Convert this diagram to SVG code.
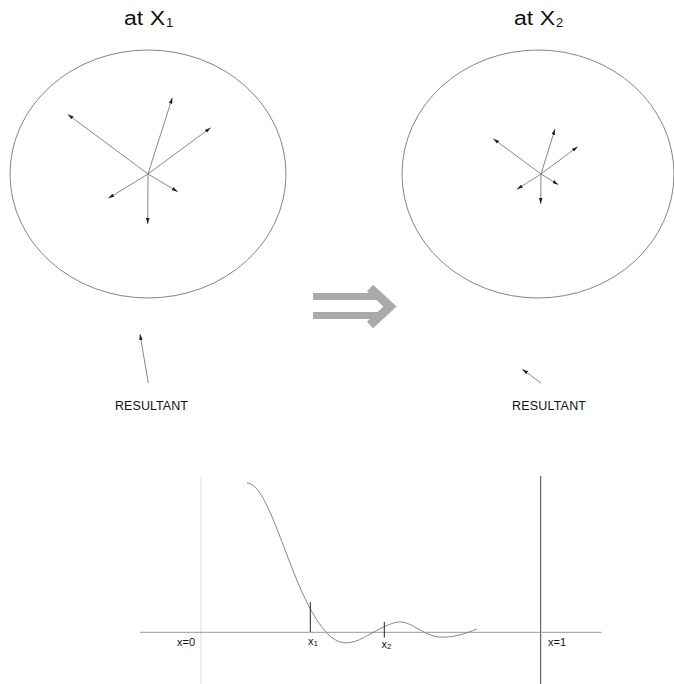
<svg xmlns="http://www.w3.org/2000/svg" width="674" height="684" viewBox="0 0 674 684">
<style>
text{font-family:"Liberation Sans",Arial,sans-serif;fill:#111}
.title{font-size:20px}
.sub{font-size:13px}
.res{font-size:12.5px}
.lab{font-size:11px}
.ell{fill:none;stroke:#777;stroke-width:0.9}
.vec{stroke:#888;stroke-width:1;fill:none;marker-end:url(#ah)}
.axis{stroke:#999;stroke-width:1}
</style>
<defs>
<marker id="ah" viewBox="0 0 10 6" refX="10" refY="3" markerWidth="6" markerHeight="4" orient="auto" markerUnits="userSpaceOnUse">
<path d="M0,0 L10,3 L0,6 z" fill="#222"/>
</marker>
</defs>
<rect width="674" height="684" fill="#fff"/>

<g id="title1"><text class="title" x="124" y="25" textLength="41" lengthAdjust="spacingAndGlyphs">at X</text><text class="sub" x="166" y="26.5">1</text></g>
<g id="title2"><text class="title" x="514" y="25" textLength="41" lengthAdjust="spacingAndGlyphs">at X</text><text class="sub" x="556" y="26.5">2</text></g>

<g id="circle1">
<ellipse class="ell" cx="148" cy="174" rx="138" ry="124"/>
<line class="vec" x1="148" y1="174" x2="67.7" y2="114.3"/>
<line class="vec" x1="148" y1="174" x2="172.3" y2="97.7"/>
<line class="vec" x1="148" y1="174" x2="210.7" y2="127.7"/>
<line class="vec" x1="148" y1="174" x2="177.7" y2="191.7"/>
<line class="vec" x1="148" y1="174" x2="108.3" y2="198.3"/>
<line class="vec" x1="148" y1="174" x2="147.7" y2="224"/>
</g>

<g id="circle2">
<ellipse class="ell" cx="538" cy="174" rx="136" ry="124"/>
<line class="vec" x1="541" y1="174" x2="493.3" y2="138.7"/>
<line class="vec" x1="541" y1="174" x2="555" y2="129"/>
<line class="vec" x1="541" y1="174" x2="577.7" y2="146.7"/>
<line class="vec" x1="541" y1="174" x2="558.3" y2="184.7"/>
<line class="vec" x1="541" y1="174" x2="517" y2="189.3"/>
<line class="vec" x1="541" y1="174" x2="540.7" y2="204"/>
</g>

<g id="implies" fill="#aaa">
<rect x="313" y="293" width="68" height="7"/>
<rect x="313" y="312" width="68" height="7"/>
<polyline points="370,288 390,306.5 370,325" fill="none" stroke="#aaa" stroke-width="9" stroke-linejoin="miter"/>
</g>

<g id="resultant1">
<line class="vec" x1="148.3" y1="383" x2="140" y2="334"/>
<text class="res" x="115" y="410" textLength="73">RESULTANT</text>
</g>
<g id="resultant2">
<line class="vec" x1="541" y1="383" x2="522.3" y2="369.3"/>
<text class="res" x="512" y="410" textLength="74">RESULTANT</text>
</g>

<g id="graph">
<line x1="201" y1="476" x2="201" y2="684" stroke="#ddd" stroke-width="1"/>
<line x1="540.7" y1="476" x2="540.7" y2="684" stroke="#444" stroke-width="1"/>
<line class="axis" x1="140" y1="632.3" x2="601.7" y2="632.3"/>
<path d="M247,483 C256,484 262,495 270,512 C280,535 292,570 302,592 C312,614 325,637 340,642 C350,645 360,640 372,633 C385,626 395,621 402,622 C412,623 422,634 438,637 C452,638 465,634 477,629" fill="none" stroke="#888" stroke-width="1"/>
<line x1="310.3" y1="602" x2="310.3" y2="632" stroke="#222" stroke-width="1"/>
<line x1="384.3" y1="622" x2="384.3" y2="637.5" stroke="#222" stroke-width="1"/>
<text class="lab" x="177" y="645.5">x=0</text>
<text class="lab" x="548" y="645.5">x=1</text>
<text class="lab" x="308" y="645">x<tspan font-size="8" dy="1">1</tspan></text>
<text class="lab" x="381.5" y="648">x<tspan font-size="8" dy="1">2</tspan></text>
</g>
</svg>
